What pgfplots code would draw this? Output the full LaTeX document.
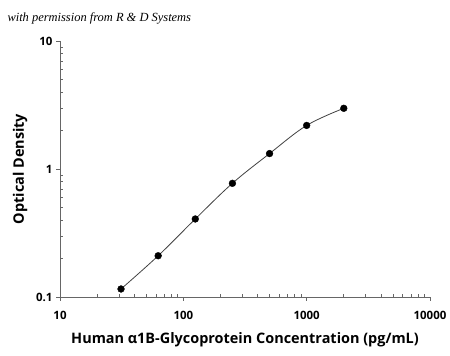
\documentclass[border=0pt]{standalone}
\usepackage{pgfplots}
\pgfplotsset{compat=1.18}
\usepackage{fontspec}
\setmainfont{Open Sans}
\newfontfamily\permfont{Liberation Serif}
\begin{document}
\begin{tikzpicture}
\begin{axis}[
  scale only axis,
  width=370bp, height=256bp,
  xmode=log, ymode=log,
  xmin=10, xmax=10000, ymin=0.1, ymax=10,
  axis lines*=left,
  axis line style={gray!80!black, line width=0.7pt},
  tick style={gray!80!black, line width=0.6pt},
  tick align=inside,
  major tick length=-4bp,
  minor tick length=3bp,
  xtick={10,100,1000,10000},
  xticklabels={10,100,1000,10000},
  ytick={0.1,1,10},
  yticklabels={0.1,1,10},
  minor xtick={20,30,40,50,60,70,80,90,200,300,400,500,600,700,800,900,2000,3000,4000,5000,6000,7000,8000,9000},
  minor ytick={0.2,0.3,0.4,0.5,0.6,0.7,0.8,0.9,2,3,4,5,6,7,8,9},
  ticklabel style={font=\fontsize{11.5}{13}\selectfont\bfseries},
  /pgf/number format/assume math mode=true,
  xticklabel style={yshift=-11bp},
  yticklabel style={xshift=-4bp},
  xlabel={Human α1B-Glycoprotein Concentration (pg/mL)},
  ylabel={Optical Density},
  label style={font=\fontsize{14.5}{16}\selectfont\bfseries},
  xlabel style={yshift=-6bp},
  ylabel style={yshift=2bp},
  clip=false,
]
\addplot[black!75, line width=0.8pt, smooth, tension=0.6] coordinates {
  (31.25,0.1155) (62.5,0.21) (125,0.407) (250,0.773) (500,1.32) (1000,2.19) (2000,2.98)
};
\addplot[only marks, mark=*, mark size=3.4bp, black] coordinates {
  (31.25,0.1155) (62.5,0.21) (125,0.407) (250,0.773) (500,1.32) (1000,2.19) (2000,2.98)
};
\end{axis}
\node[anchor=west, font=\permfont\itshape\fontsize{12.5}{14}\selectfont] at ([shift={(-56bp,23bp)}]current axis.north west) {with permission from R \& D Systems};
\pgfresetboundingbox
\path ([shift={(-60bp,-59bp)}]current axis.south west) rectangle ([shift={(20bp,41bp)}]current axis.north east);
\end{tikzpicture}
\end{document}
